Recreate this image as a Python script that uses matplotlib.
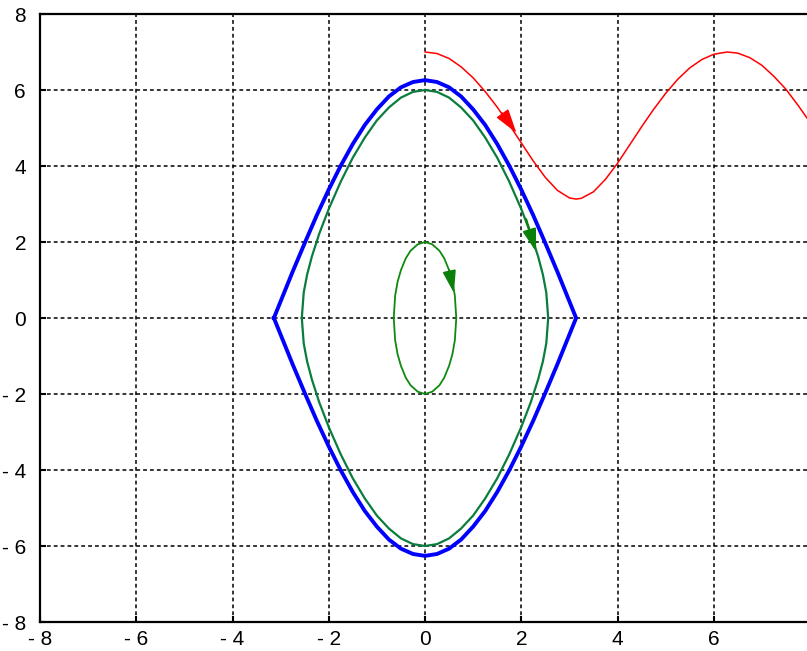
import numpy as np
import matplotlib
matplotlib.use('Agg')
import matplotlib.pyplot as plt

# Фазовый портрет маятника: угол theta и угловая скорость omega

# сепаратриса (верхняя половина, нижняя симметрична)
sep_theta = np.array([-3.14, -2.75, -2.5, -2.25, -2.0, -1.75, -1.5, -1.25, -1.0, -0.75, -0.5, -0.25,
                      0.0, 0.25, 0.5, 0.75, 1.0, 1.25, 1.5, 1.75, 2.0, 2.25, 2.5, 2.75, 3.14])
sep_omega = np.array([0.0, 1.22, 1.97, 2.70, 3.38, 4.01, 4.58, 5.08, 5.49, 5.83, 6.07, 6.21,
                      6.26, 6.21, 6.07, 5.83, 5.49, 5.08, 4.58, 4.01, 3.38, 2.70, 1.97, 1.22, 0.0])

# большие колебания, omega0 = 6
big_theta = np.array([-2.56, -2.52, -2.45, -2.35, -2.2, -2.0, -1.75, -1.5, -1.25, -1.0, -0.75, -0.5, -0.25,
                      0.0, 0.25, 0.5, 0.75, 1.0, 1.25, 1.5, 1.75, 2.0, 2.2, 2.35, 2.45, 2.52, 2.56])
big_omega = np.array([0.0, 0.67, 1.14, 1.62, 2.21, 2.87, 3.59, 4.22, 4.75, 5.20, 5.54, 5.80, 5.95,
                      6.0, 5.95, 5.80, 5.54, 5.20, 4.75, 4.22, 3.59, 2.87, 2.21, 1.62, 1.14, 0.67, 0.0])

# малые колебания, omega0 = 2
small_theta = np.array([-0.65, -0.62, -0.57, -0.5, -0.4, -0.3, -0.15, 0.0, 0.15, 0.3, 0.4, 0.5, 0.57, 0.62, 0.65])
small_omega = np.array([0.0, 0.59, 0.95, 1.26, 1.57, 1.77, 1.94, 2.0, 1.94, 1.77, 1.57, 1.26, 0.95, 0.59, 0.0])

# вращение, omega0 = 7
rot_theta = np.array([0.0, 0.25, 0.5, 0.75, 1.0, 1.25, 1.5, 1.75, 2.0, 2.25, 2.5, 2.75, 3.0, 3.14, 3.25,
                      3.5, 3.75, 4.0, 4.25, 4.5, 4.75, 5.0, 5.25, 5.5, 5.75, 6.0, 6.28, 6.5, 6.75,
                      7.0, 7.25, 7.5, 7.75, 8.0])
rot_omega = np.array([7.0, 6.96, 6.83, 6.61, 6.32, 5.96, 5.55, 5.09, 4.61, 4.13, 3.70, 3.36, 3.16, 3.13, 3.15,
                      3.32, 3.65, 4.07, 4.55, 5.03, 5.49, 5.91, 6.28, 6.58, 6.80, 6.94, 7.0, 6.97, 6.85,
                      6.65, 6.36, 6.02, 5.60, 5.15])

ticks = [-8, -6, -4, -2, 0, 2, 4, 6, 8]
xtick_labels = ['- 8', '- 6', '- 4', '- 2', '0', '2', '4', '6', '']
ytick_labels = ['- 8', '- 6', '- 4', '- 2', '0', '2', '4', '6', '8']

plt.rcParams['font.family'] = ['DejaVu Sans Condensed', 'Liberation Sans Narrow', 'Liberation Sans', 'DejaVu Sans']

fig = plt.figure(figsize=(8.07, 6.51), dpi=100)
ax = fig.add_axes([40 / 807, 29 / 651, 770 / 807, 608 / 651])

green_big = '#0a7d3e'
green_small = '#0f8a0f'


def closed(theta, omega):
    # замыкаем траекторию: верхняя половина и зеркальная нижняя
    return np.concatenate([theta, theta[::-1]]), np.concatenate([omega, -omega[::-1]])


x, y = closed(sep_theta, sep_omega)
ax.plot(x, y, color='#0000ff', lw=2.8, zorder=3)
x, y = closed(big_theta, big_omega)
ax.plot(x, y, color=green_big, lw=1.6, zorder=4)
x, y = closed(small_theta, small_omega)
ax.plot(x, y, color=green_small, lw=1.3, zorder=4)
ax.plot(rot_theta, rot_omega, color='#ff0000', lw=1.1, zorder=4)

# стрелки направления движения
arrow_style = '-|>,head_length=1.5,head_width=0.45'
ax.annotate('', xy=(1.9, 4.87), xytext=(1.6, 5.4),
            arrowprops=dict(arrowstyle=arrow_style, color='#ff0000', lw=1.1,
                            mutation_scale=10, shrinkA=0, shrinkB=0), zorder=5)
ax.annotate('', xy=(2.31, 1.74), xytext=(2.1, 2.6),
            arrowprops=dict(arrowstyle=arrow_style, color='#0a800a', lw=1.6,
                            mutation_scale=9, shrinkA=0, shrinkB=0), zorder=5)
ax.annotate('', xy=(0.6, 0.66), xytext=(0.5, 1.26),
            arrowprops=dict(arrowstyle=arrow_style, color='#0a800a', lw=1.3,
                            mutation_scale=9, shrinkA=0, shrinkB=0), zorder=5)

ax.set_xlim(-8, 8)
ax.set_ylim(-8, 8)
ax.set_xticks(ticks)
ax.set_xticklabels(xtick_labels)
ax.set_yticks(ticks)
ax.set_yticklabels(ytick_labels)
ax.tick_params(direction='in', length=4, width=1.5, labelsize=15, pad=6)
ax.tick_params(axis='y', pad=10)
for s in ax.spines.values():
    s.set_linewidth(1.6)
ax.grid(True, color='black', lw=1.1, linestyle=(0, (2.5, 2)))
ax.set_axisbelow(True)

fig.savefig('out.png', dpi=100)
